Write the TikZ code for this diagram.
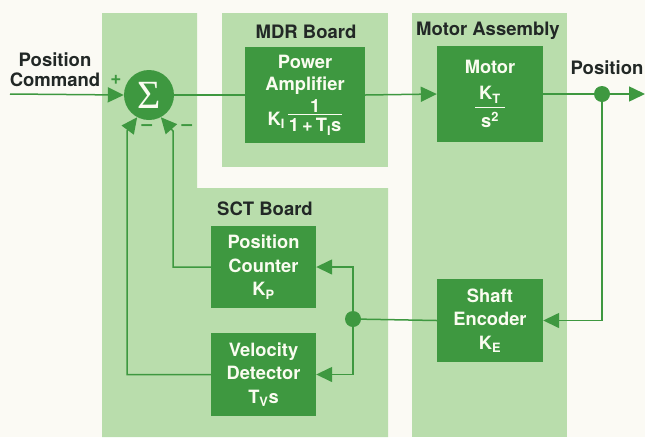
\documentclass[tikz,border=0pt]{standalone}
\usepackage{fontspec}
\setmainfont{TeX Gyre Heros}
\newfontfamily\sigmafont{Liberation Serif}
\usetikzlibrary{arrows.meta,calc}
\definecolor{dg}{RGB}{62,152,64}
\definecolor{lg}{RGB}{185,221,172}
\definecolor{bg}{RGB}{251,250,244}
\definecolor{ink}{RGB}{34,40,38}
\definecolor{wt}{RGB}{250,252,240}
\newcommand\sub[1]{\textsubscript{#1}}
% #1 numerator, #2 denominator, #3 gap numerator baseline->rule, #4 rule->denominator baseline, #5 side padding
\newcommand\myfrac[5]{\begingroup\setlength\arrayrulewidth{1.4pt}\setlength\tabcolsep{#5}\renewcommand\arraystretch{0}\begin{tabular}[t]{c}#1\rule[-#3]{0pt}{#3}\\\hline\rule{0pt}{#4}#2\end{tabular}\endgroup}
\tikzset{
  box/.style={fill=dg, text=wt, font=\bfseries\fontsize{18.3}{23.5}\selectfont, align=center, inner sep=0pt},
  lbl/.style={text=ink, font=\bfseries\fontsize{18.5}{20}\selectfont, align=center, inner sep=0pt},
  sgn/.style={text=dg, font=\bfseries\fontsize{19}{19}\selectfont, inner sep=0pt},
  wire/.style={draw=dg, line width=1.5pt},
  arr/.style={wire, -{Triangle[length=16pt,width=15pt]}},
  jdot/.style={circle, fill=dg, minimum size=16pt, inner sep=0pt},
  panel/.style={fill=lg}
}
\begin{document}
\begin{tikzpicture}[x=1pt,y=-1pt]
\fill[bg] (0,0) rectangle (645,437);
\useasboundingbox (0,0) rectangle (645,437);
% panels
\fill[panel] (102,13) -- (197,13) -- (197,188) -- (388,188) -- (388,437) -- (102,437) -- cycle;
\fill[panel] (222,13) rectangle (388,167);
\fill[panel] (412,13) rectangle (567,437);
% panel labels
\node[lbl] (mdrl) at (306,32) {MDR Board};
\node[lbl] (mal) at (488,31) {Motor Assembly};
\node[lbl] (sctl) at (265,209) {SCT Board};
\node[lbl] (pcmd) at (55,70) {Position\\Command};
\node[lbl] (posl) at (607,68) {Position};
% blocks
\node[circle, fill=dg, minimum size=50pt, inner sep=0pt, text=wt, font=\sigmafont\fontsize{40}{40}\selectfont] (sum) at (149,95) {Σ};
\node[box, minimum width=120pt, minimum height=96pt] (pa) at (305,95) {Power\\[-1.5pt]Amplifier\\[-1.5pt]\raisebox{-13pt}{K\sub{I}}\,\myfrac{1}{1\,+\,T\sub{I}s}{1.5pt}{17pt}{1pt}};
\node[box, minimum width=106pt, minimum height=96pt] (motor) at (490,94) {Motor\\[2.5pt]\myfrac{K\sub{T}}{s\textsuperscript{2}}{7pt}{19.5pt}{4pt}};
\node[box, minimum width=105pt, minimum height=82pt] (pc) at (263.5,267) {Position\\Counter\\K\sub{P}};
\node[box, minimum width=105pt, minimum height=83pt] (vd) at (263.5,374.5) {Velocity\\Detector\\T\sub{V}s};
\node[box, minimum width=106pt, minimum height=83pt] (se) at (490,320.5) {Shaft\\Encoder\\K\sub{E}};
\node[jdot] (j1) at (602,94) {};
\node[jdot] (j2) at (353,319) {};
\coordinate (cin) at (10,94);
\coordinate (cout) at (645,94);
\coordinate (bl) at (127,131);
\coordinate (br) at (173,131);
% signs
\node[sgn] (plus) at (116,80) {+};
\node[sgn] (m1) at (147,128) {–};
\node[sgn] (m2) at (187,128) {–};
% connectors
\draw[arr] (cin) -- (sum.west);
\draw[wire] (sum.east) -- (pa.west);
\draw[arr] (pa.east) -- (motor.west);
\draw[wire] (motor.east) -- (j1);
\draw[arr] (j1) -- (cout);
\draw[arr] (j1) |- (se.east);
\draw[wire] (se.west) -- (j2);
\draw[arr] (j2) |- (pc.east);
\draw[arr] (j2) |- (vd.east);
\draw[arr] (pc.west) -| (br) -- (sum.-62);
\draw[arr] (vd.west) -| (bl) -- (sum.-118);
\end{tikzpicture}
\end{document}
